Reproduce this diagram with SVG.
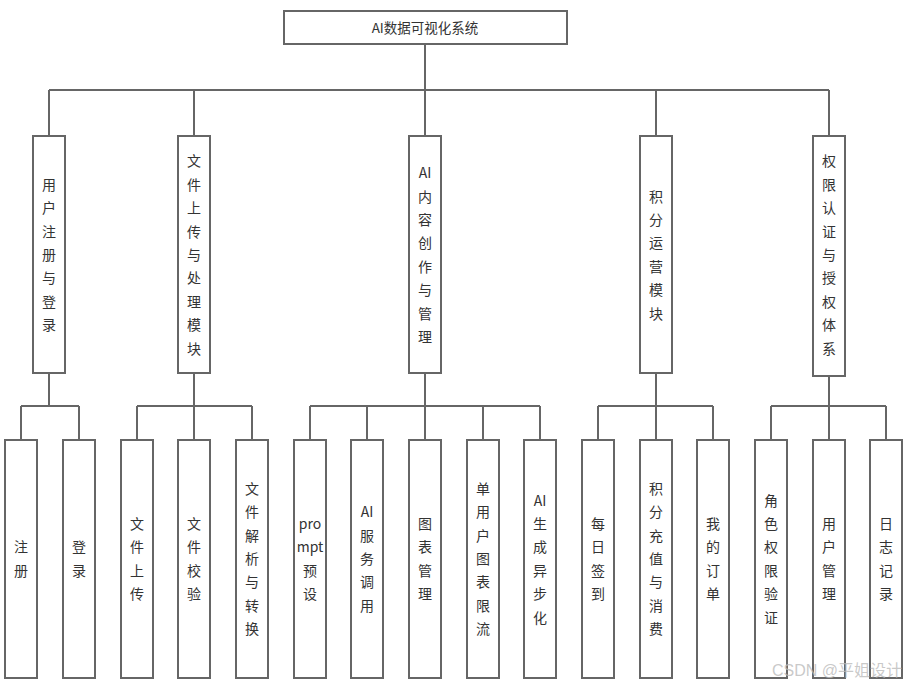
<svg xmlns="http://www.w3.org/2000/svg" width="911" height="687" viewBox="0 0 911 687">
<style>
.box{fill:#fff;stroke:#666;stroke-width:2}
.ln{fill:none;stroke:#666;stroke-width:2}
.t{font-family:"Noto Sans CJK SC","Noto Sans",sans-serif;font-size:14px;fill:#333;text-anchor:middle}
.title{font-size:13.5px}
.wm{font-family:"Liberation Sans","Noto Sans CJK SC",sans-serif;font-size:16px;fill:#bbb;fill-opacity:0.8}
</style>
<rect width="911" height="687" fill="#fff"/>
<g id="connectors">
<path class="ln" d="M425,44V90M49,90H829M49,90V136M194,90V136M425,90V136M656,90V136M829,90V136"/>
<path class="ln" d="M49,373V406M21,406H79M21,406V440M79,406V440"/>
<path class="ln" d="M194,373V406M137,406H252M137,406V440M194,406V440M252,406V440"/>
<path class="ln" d="M425,373V406M310,406H540M310,406V440M367,406V440M425,406V440M483,406V440M540,406V440"/>
<path class="ln" d="M656,373V406M598,406H713M598,406V440M656,406V440M713,406V440"/>
<path class="ln" d="M829,376V406M771,406H886M771,406V440M829,406V440M886,406V440"/>
</g>
<g id="root">
<rect class="box" x="284" y="11" width="283" height="33"/>
<text class="t title" x="425" y="32.5">AI数据可视化系统</text>
</g>
<g id="n1">
<rect class="box" x="33" y="136" width="32" height="237"/>
<text class="t"><tspan x="49" y="189.8">用</tspan><tspan x="49" y="213.2">户</tspan><tspan x="49" y="236.6">注</tspan><tspan x="49" y="260">册</tspan><tspan x="49" y="283.4">与</tspan><tspan x="49" y="306.8">登</tspan><tspan x="49" y="330.2">录</tspan></text>
</g>
<g id="n2">
<rect class="box" x="178" y="136" width="32" height="237"/>
<text class="t"><tspan x="194" y="166.4">文</tspan><tspan x="194" y="189.8">件</tspan><tspan x="194" y="213.2">上</tspan><tspan x="194" y="236.6">传</tspan><tspan x="194" y="260">与</tspan><tspan x="194" y="283.4">处</tspan><tspan x="194" y="306.8">理</tspan><tspan x="194" y="330.2">模</tspan><tspan x="194" y="353.6">块</tspan></text>
</g>
<g id="n3">
<rect class="box" x="409" y="136" width="32" height="237"/>
<text class="t"><tspan x="425" y="178.1">AI</tspan><tspan x="425" y="201.5">内</tspan><tspan x="425" y="224.9">容</tspan><tspan x="425" y="248.3">创</tspan><tspan x="425" y="271.7">作</tspan><tspan x="425" y="295.1">与</tspan><tspan x="425" y="318.5">管</tspan><tspan x="425" y="341.9">理</tspan></text>
</g>
<g id="n4">
<rect class="box" x="640" y="136" width="32" height="237"/>
<text class="t"><tspan x="656" y="201.5">积</tspan><tspan x="656" y="224.9">分</tspan><tspan x="656" y="248.3">运</tspan><tspan x="656" y="271.7">营</tspan><tspan x="656" y="295.1">模</tspan><tspan x="656" y="318.5">块</tspan></text>
</g>
<g id="n5">
<rect class="box" x="813" y="136" width="32" height="240"/>
<text class="t"><tspan x="829" y="166.4">权</tspan><tspan x="829" y="189.8">限</tspan><tspan x="829" y="213.2">认</tspan><tspan x="829" y="236.6">证</tspan><tspan x="829" y="260">与</tspan><tspan x="829" y="283.4">授</tspan><tspan x="829" y="306.8">权</tspan><tspan x="829" y="330.2">体</tspan><tspan x="829" y="353.6">系</tspan></text>
</g>
<g id="l1">
<rect class="box" x="5" y="440" width="32" height="238"/>
<text class="t"><tspan x="21" y="552.3">注</tspan><tspan x="21" y="575.7">册</tspan></text>
</g>
<g id="l2">
<rect class="box" x="63" y="440" width="32" height="238"/>
<text class="t"><tspan x="79" y="552.3">登</tspan><tspan x="79" y="575.7">录</tspan></text>
</g>
<g id="l3">
<rect class="box" x="121" y="440" width="32" height="238"/>
<text class="t"><tspan x="137" y="528.9">文</tspan><tspan x="137" y="552.3">件</tspan><tspan x="137" y="575.7">上</tspan><tspan x="137" y="599.1">传</tspan></text>
</g>
<g id="l4">
<rect class="box" x="178" y="440" width="32" height="238"/>
<text class="t"><tspan x="194" y="528.9">文</tspan><tspan x="194" y="552.3">件</tspan><tspan x="194" y="575.7">校</tspan><tspan x="194" y="599.1">验</tspan></text>
</g>
<g id="l5">
<rect class="box" x="236" y="440" width="32" height="238"/>
<text class="t"><tspan x="252" y="493.8">文</tspan><tspan x="252" y="517.2">件</tspan><tspan x="252" y="540.6">解</tspan><tspan x="252" y="564">析</tspan><tspan x="252" y="587.4">与</tspan><tspan x="252" y="610.8">转</tspan><tspan x="252" y="634.2">换</tspan></text>
</g>
<g id="l6">
<rect class="box" x="294" y="440" width="32" height="238"/>
<text class="t"><tspan x="310" y="528.9">pro</tspan><tspan x="310" y="552.3">mpt</tspan><tspan x="310" y="575.7">预</tspan><tspan x="310" y="599.1">设</tspan></text>
</g>
<g id="l7">
<rect class="box" x="351" y="440" width="32" height="238"/>
<text class="t"><tspan x="367" y="517.2">AI</tspan><tspan x="367" y="540.6">服</tspan><tspan x="367" y="564">务</tspan><tspan x="367" y="587.4">调</tspan><tspan x="367" y="610.8">用</tspan></text>
</g>
<g id="l8">
<rect class="box" x="409" y="440" width="32" height="238"/>
<text class="t"><tspan x="425" y="528.9">图</tspan><tspan x="425" y="552.3">表</tspan><tspan x="425" y="575.7">管</tspan><tspan x="425" y="599.1">理</tspan></text>
</g>
<g id="l9">
<rect class="box" x="467" y="440" width="32" height="238"/>
<text class="t"><tspan x="483" y="493.8">单</tspan><tspan x="483" y="517.2">用</tspan><tspan x="483" y="540.6">户</tspan><tspan x="483" y="564">图</tspan><tspan x="483" y="587.4">表</tspan><tspan x="483" y="610.8">限</tspan><tspan x="483" y="634.2">流</tspan></text>
</g>
<g id="l10">
<rect class="box" x="524" y="440" width="32" height="238"/>
<text class="t"><tspan x="540" y="505.5">AI</tspan><tspan x="540" y="528.9">生</tspan><tspan x="540" y="552.3">成</tspan><tspan x="540" y="575.7">异</tspan><tspan x="540" y="599.1">步</tspan><tspan x="540" y="622.5">化</tspan></text>
</g>
<g id="l11">
<rect class="box" x="582" y="440" width="32" height="238"/>
<text class="t"><tspan x="598" y="528.9">每</tspan><tspan x="598" y="552.3">日</tspan><tspan x="598" y="575.7">签</tspan><tspan x="598" y="599.1">到</tspan></text>
</g>
<g id="l12">
<rect class="box" x="640" y="440" width="32" height="238"/>
<text class="t"><tspan x="656" y="493.8">积</tspan><tspan x="656" y="517.2">分</tspan><tspan x="656" y="540.6">充</tspan><tspan x="656" y="564">值</tspan><tspan x="656" y="587.4">与</tspan><tspan x="656" y="610.8">消</tspan><tspan x="656" y="634.2">费</tspan></text>
</g>
<g id="l13">
<rect class="box" x="697" y="440" width="32" height="238"/>
<text class="t"><tspan x="713" y="528.9">我</tspan><tspan x="713" y="552.3">的</tspan><tspan x="713" y="575.7">订</tspan><tspan x="713" y="599.1">单</tspan></text>
</g>
<g id="l14">
<rect class="box" x="755" y="440" width="32" height="238"/>
<text class="t"><tspan x="771" y="505.5">角</tspan><tspan x="771" y="528.9">色</tspan><tspan x="771" y="552.3">权</tspan><tspan x="771" y="575.7">限</tspan><tspan x="771" y="599.1">验</tspan><tspan x="771" y="622.5">证</tspan></text>
</g>
<g id="l15">
<rect class="box" x="813" y="440" width="32" height="238"/>
<text class="t"><tspan x="829" y="528.9">用</tspan><tspan x="829" y="552.3">户</tspan><tspan x="829" y="575.7">管</tspan><tspan x="829" y="599.1">理</tspan></text>
</g>
<g id="l16">
<rect class="box" x="870" y="440" width="32" height="238"/>
<text class="t"><tspan x="886" y="528.9">日</tspan><tspan x="886" y="552.3">志</tspan><tspan x="886" y="575.7">记</tspan><tspan x="886" y="599.1">录</tspan></text>
</g>
<text class="wm" x="772" y="676">CSDN @平姐设计</text>
</svg>
